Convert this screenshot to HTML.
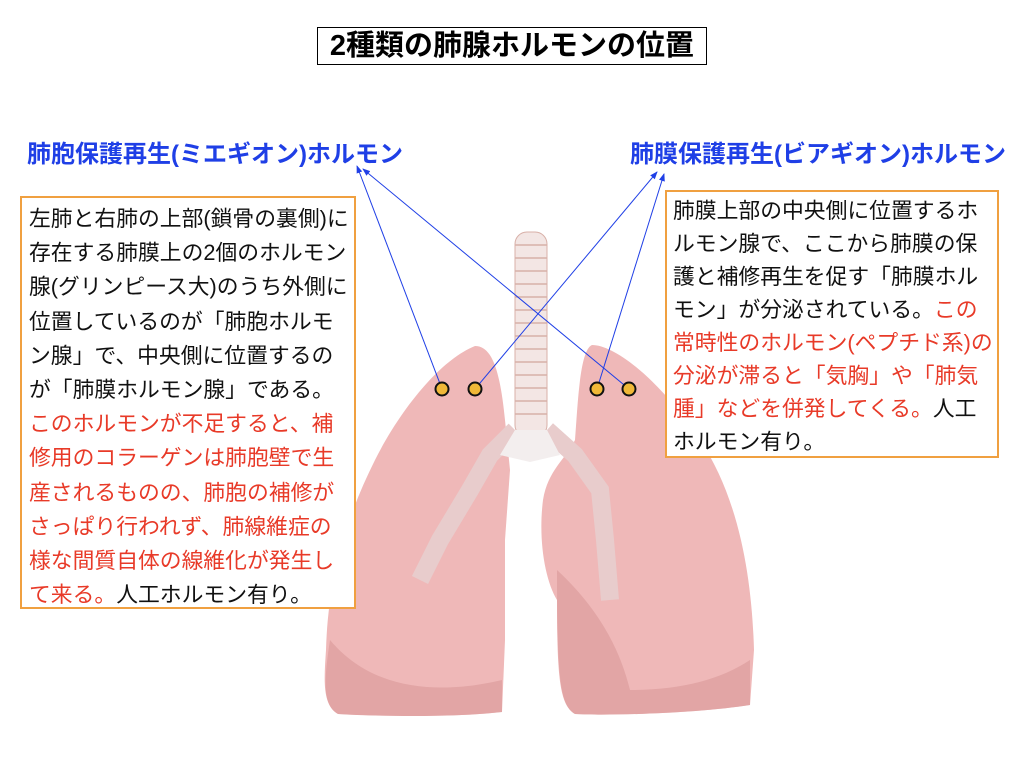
<!DOCTYPE html>
<html><head><meta charset="utf-8"><style>
body{margin:0;width:1024px;height:768px;background:#fff;position:relative;overflow:hidden;font-family:"Liberation Sans","Noto Sans CJK JP",sans-serif;}
.t{position:absolute;left:317px;top:27px;width:388px;height:36px;border:1px solid #000;font-size:29px;font-weight:bold;text-align:center;line-height:36px;white-space:nowrap;}
.lbl{position:absolute;top:134px;font-size:24px;font-weight:bold;color:#1f3fe6;white-space:nowrap;}
.box{position:absolute;border:2px solid #f0a040;background:#fff;font-size:21.8px;color:#111;white-space:nowrap;box-sizing:border-box;}
.r{color:#e83a28;}
</style></head><body>
<div class="t">2種類の肺腺ホルモンの位置</div>
<div class="lbl" style="left:27px">肺胞保護再生(ミエギオン)ホルモン</div>
<div class="lbl" style="left:630px">肺膜保護再生(ビアギオン)ホルモン</div>
<svg width="1024" height="768" style="position:absolute;left:0;top:0">
<defs><marker id="a" markerWidth="8" markerHeight="8" refX="7" refY="4" orient="auto"><path d="M0,1L8,4L0,7z" fill="#1f3fe6"/></marker></defs>
<path d="M475,346 C492,346 500,370 505,420 L510,470 L505,540 L505,640 L502,712 C450,718 370,716 338,714 C322,705 324,680 326,650 C328,580 345,520 375,460 C400,410 440,360 475,346Z" fill="#efb8b8"/>
<path d="M330,640 C380,700 460,690 502,680 L502,712 C450,718 370,716 338,714 C322,705 324,680 330,640Z" fill="#d89898" opacity=".6"/>
<path d="M592,345 C615,345 660,380 700,440 C740,500 752,580 754,650 L750,705 C700,713 610,716 575,714 C560,705 557,680 557,600 C545,580 538,540 543,500 C548,470 565,460 575,440 C578,400 580,350 592,345Z" fill="#efb8b8"/>
<path d="M557,570 C600,610 620,650 630,690 C680,690 720,680 750,660 L750,705 C700,713 610,716 575,714 C560,705 557,680 557,570Z" fill="#d89898" opacity=".6"/>
<rect x="515" y="232" width="32" height="205" rx="12" fill="#f3e6e4" stroke="#d8b0a8"/>
<g stroke="#d8b0a8" stroke-width="1.5">
<line x1="515" y1="245" x2="547" y2="245"/><line x1="515" y1="258" x2="547" y2="258"/><line x1="515" y1="271" x2="547" y2="271"/><line x1="515" y1="284" x2="547" y2="284"/><line x1="515" y1="297" x2="547" y2="297"/><line x1="515" y1="310" x2="547" y2="310"/><line x1="515" y1="323" x2="547" y2="323"/><line x1="515" y1="336" x2="547" y2="336"/><line x1="515" y1="349" x2="547" y2="349"/><line x1="515" y1="362" x2="547" y2="362"/><line x1="515" y1="375" x2="547" y2="375"/><line x1="515" y1="388" x2="547" y2="388"/><line x1="515" y1="401" x2="547" y2="401"/><line x1="515" y1="414" x2="547" y2="414"/>
</g>
<path d="M515,430 L490,455 L470,490 L440,540 L420,580" stroke="#e8cccc" stroke-width="18" fill="none"/>
<path d="M547,430 L575,455 L600,490 L605,540 L610,600" stroke="#e8cccc" stroke-width="18" fill="none"/>
<path d="M515,430 L547,430 L560,455 L530,462 L500,455Z" fill="#f3eeee"/>
<line x1="442" y1="389" x2="357" y2="166" stroke="#1f3fe6" marker-end="url(#a)"/>
<line x1="629" y1="389" x2="363" y2="169" stroke="#1f3fe6" marker-end="url(#a)"/>
<line x1="475" y1="389" x2="657" y2="172" stroke="#1f3fe6" marker-end="url(#a)"/>
<line x1="597" y1="389" x2="664" y2="174" stroke="#1f3fe6" marker-end="url(#a)"/>
<g fill="#f0b838" stroke="#111" stroke-width="2">
<circle cx="442" cy="389" r="6.5"/><circle cx="475" cy="389" r="6.5"/><circle cx="597" cy="389" r="6.5"/><circle cx="629" cy="389" r="6.5"/>
</g>
</svg>
<div class="box" style="left:20px;top:196px;width:336px;height:413px;padding:4px 0 0 7px;line-height:34.2px">左肺と右肺の上部(鎖骨の裏側)に<br>存在する肺膜上の2個のホルモン<br>腺(グリンピース大)のうち外側に<br>位置しているのが「肺胞ホルモ<br>ン腺」で、中央側に位置するの<br>が「肺膜ホルモン腺」である。<br><span class="r">このホルモンが不足すると、補<br>修用のコラーゲンは肺胞壁で生<br>産されるものの、肺胞の補修が<br>さっぱり行われず、肺線維症の<br>様な間質自体の線維化が発生し<br>て来る。</span>人工ホルモン有り。</div>
<div class="box" style="left:665px;top:190px;width:334px;height:268px;padding:2px 0 0 6px;line-height:33px">肺膜上部の中央側に位置するホ<br>ルモン腺で、ここから肺膜の保<br>護と補修再生を促す「肺膜ホル<br>モン」が分泌されている。<span class="r">この<br>常時性のホルモン(ペプチド系)の<br>分泌が滞ると「気胸」や「肺気<br>腫」などを併発してくる。</span>人工<br>ホルモン有り。</div>
</body></html>
